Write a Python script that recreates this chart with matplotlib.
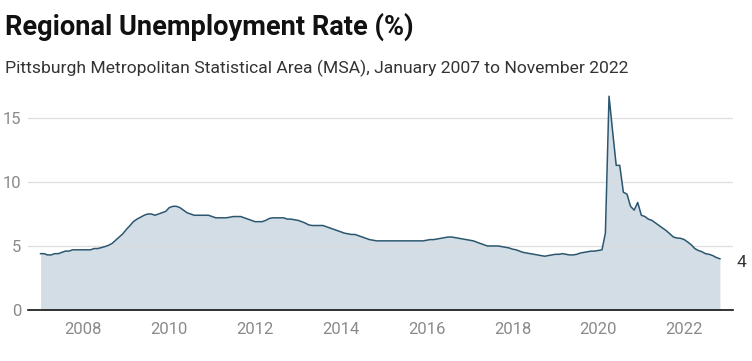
import pandas as pd
import matplotlib.pyplot as plt
import matplotlib.dates as mdates

# monthly unemployment rate (%), Jan 2007 - Nov 2022
rate_2007 = [4.4, 4.4, 4.3, 4.3, 4.4, 4.4, 4.5, 4.6, 4.6, 4.7, 4.7, 4.7]
rate_2008 = [4.7, 4.7, 4.7, 4.8, 4.8, 4.87, 4.95, 5.05, 5.2, 5.45, 5.7, 5.95]
rate_2009 = [6.3, 6.6, 6.9, 7.1, 7.25, 7.4, 7.5, 7.5, 7.4, 7.5, 7.6, 7.7]
rate_2010 = [8.0, 8.1, 8.1, 8.0, 7.8, 7.6, 7.5, 7.4, 7.4, 7.4, 7.4, 7.4]
rate_2011 = [7.3, 7.2, 7.2, 7.2, 7.2, 7.25, 7.3, 7.3, 7.3, 7.2, 7.1, 7.0]
rate_2012 = [6.9, 6.9, 6.9, 7.0, 7.15, 7.2, 7.2, 7.2, 7.2, 7.1, 7.1, 7.05]
rate_2013 = [7.0, 6.9, 6.8, 6.65, 6.6, 6.6, 6.6, 6.6, 6.5, 6.4, 6.3, 6.2]
rate_2014 = [6.1, 6.0, 5.95, 5.9, 5.9, 5.8, 5.7, 5.6, 5.5, 5.45, 5.4, 5.4]
rate_2015 = [5.4, 5.4, 5.4, 5.4, 5.4, 5.4, 5.4, 5.4, 5.4, 5.4, 5.4, 5.4]
rate_2016 = [5.45, 5.5, 5.5, 5.55, 5.6, 5.65, 5.7, 5.7, 5.65, 5.6, 5.55, 5.5]
rate_2017 = [5.45, 5.4, 5.3, 5.2, 5.1, 5.0, 5.0, 5.0, 5.0, 4.95, 4.9, 4.85]
rate_2018 = [4.75, 4.7, 4.6, 4.5, 4.45, 4.4, 4.35, 4.3, 4.25, 4.2, 4.25, 4.3]
rate_2019 = [4.35, 4.35, 4.4, 4.35, 4.3, 4.3, 4.35, 4.45, 4.5, 4.55, 4.6, 4.6]
rate_2020 = [4.65, 4.7, 6.0, 16.7, 14.0, 11.3, 11.3, 9.2, 9.05, 8.1, 7.8, 8.4]
rate_2021 = [7.4, 7.3, 7.1, 7.0, 6.8, 6.6, 6.4, 6.2, 5.95, 5.7, 5.62, 5.6]
rate_2022 = [5.5, 5.3, 5.1, 4.8, 4.65, 4.55, 4.4, 4.35, 4.25, 4.1, 4.0]

rate = (rate_2007 + rate_2008 + rate_2009 + rate_2010 + rate_2011 + rate_2012
        + rate_2013 + rate_2014 + rate_2015 + rate_2016 + rate_2017 + rate_2018
        + rate_2019 + rate_2020 + rate_2021 + rate_2022)
dates = pd.date_range('2007-01-01', periods=len(rate), freq='MS')

x_ticks = ['2008', '2010', '2012', '2014', '2016', '2018', '2020', '2022']
y_ticks = [0, 5, 10, 15]
end_label = '4'

plt.rcParams['font.family'] = ['Roboto', 'DejaVu Sans']

fig = plt.figure(figsize=(7.52, 3.61), dpi=100)
ax = fig.add_axes([0.0372, 0.1413, 0.9375, 0.6099])

ax.fill_between(dates, rate, 0, color='#d3dde5', linewidth=0, zorder=1)
ax.plot(dates, rate, color='#2b566f', linewidth=1.1, zorder=3)

ax.set_ylim(0, 17.2)
ax.set_xlim(pd.Timestamp('2006-09-16'), pd.Timestamp('2023-02-20'))
ax.set_yticks(y_ticks)
ax.set_xticks([pd.Timestamp(y + '-01-01') for y in x_ticks])
ax.xaxis.set_major_formatter(mdates.DateFormatter('%Y'))

ax.grid(axis='y', color='#dddddd', linewidth=0.9, zorder=2)
ax.set_axisbelow(False)
for s in ['top', 'right', 'left']:
    ax.spines[s].set_visible(False)
ax.spines['bottom'].set_color('#111111')
ax.spines['bottom'].set_linewidth(1.2)
ax.spines['bottom'].set_zorder(4)
ax.tick_params(axis='both', length=0, labelsize=12, labelcolor='#8a8a8a')
ax.tick_params(axis='y', pad=5)
ax.tick_params(axis='x', pad=9)

ax.annotate(end_label, xy=(dates[-1], rate[-1]), xytext=(12, -2.5),
            textcoords='offset points', fontsize=12.5, color='#333333',
            va='center', ha='left')

fig.text(0.007, 0.903, 'Regional Unemployment Rate (%)', fontsize=19.6,
         fontweight='bold', color='#111111', va='baseline')
fig.text(0.007, 0.798,
         'Pittsburgh Metropolitan Statistical Area (MSA), January 2007 to November 2022',
         fontsize=12.6, color='#333333', va='baseline')

fig.savefig('out.png', dpi=100)
